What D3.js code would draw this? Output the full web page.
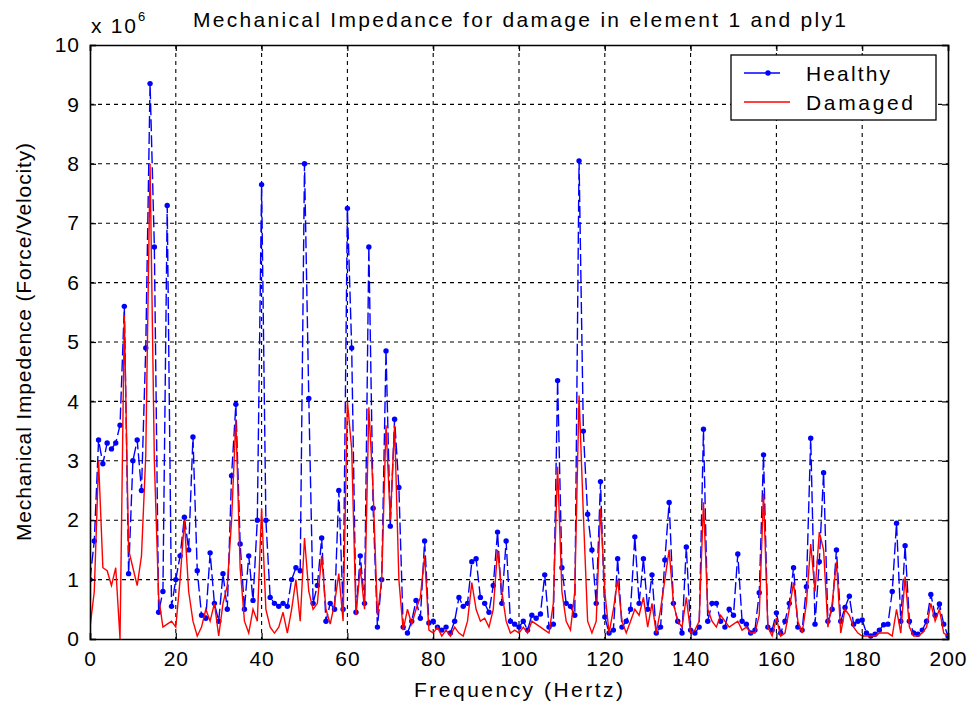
<!DOCTYPE html>
<html>
<head>
<meta charset="utf-8">
<script src="https://cdn.jsdelivr.net/npm/d3@7"></script>
<style>
  html, body { margin: 0; padding: 0; background: #fff; }
  svg { display: block; font-family: "Liberation Sans", Arial, sans-serif; }
</style>
</head>
<body>
<svg id="chart" width="974" height="709"></svg>
<script>
// Frequency axis: one sample per hertz, 0..200 Hz
const freqStart = 0;
const freqEnd = 200;
const freqStep = 1;

// Healthy plate, mechanical impedance (x 1e6)
const healthy = [
  1.0, 1.65, 3.35, 2.95, 3.3, 3.2, 3.3, 3.6, 5.6, 1.1,
  3.0, 3.35, 2.5, 4.9, 9.35, 6.6, 0.45, 0.8, 7.3, 0.55,
  1.0, 1.4, 2.05, 1.5, 3.4, 1.15, 0.4, 0.35, 1.45, 0.6,
  0.3, 1.1, 0.5, 2.75, 3.95, 1.6, 0.5, 1.4, 0.65, 2.0,
  7.65, 2.0, 0.7, 0.6, 0.55, 0.6, 0.55, 1.0, 1.2, 1.15,
  8.0, 4.05, 0.6, 0.9, 1.7, 0.3, 0.6, 0.5, 2.5, 0.5,
  7.25, 4.9, 0.45, 1.4, 0.6, 6.6, 2.2, 0.2, 1.0, 4.85,
  1.9, 3.7, 2.55, 0.2, 0.1, 0.3, 0.65, 0.35, 1.65, 0.27,
  0.3, 0.2, 0.15, 0.2, 0.1, 0.3, 0.7, 0.55, 0.6, 1.3,
  1.35, 0.7, 0.6, 0.45, 0.9, 1.8, 0.6, 1.65, 0.3, 0.25,
  0.2, 0.3, 0.15, 0.4, 0.35, 0.42, 1.08, 0.2, 0.25, 4.35,
  1.2, 0.6, 0.55, 0.4, 8.05, 3.5, 2.1, 1.5, 0.6, 2.65,
  0.37, 0.1, 0.15, 1.35, 0.2, 0.3, 0.5, 1.72, 0.6, 1.35,
  0.5, 1.08, 0.1, 0.2, 1.33, 2.3, 0.6, 0.3, 0.1, 1.55,
  0.15, 0.1, 0.2, 3.53, 0.3, 0.6, 0.6, 0.3, 0.2, 0.5,
  0.4, 1.43, 0.3, 0.25, 0.1, 0.15, 0.78, 3.1, 0.2, 0.15,
  0.44, 0.1, 0.3, 0.6, 1.2, 0.2, 0.15, 0.88, 3.38, 0.25,
  1.3, 2.8, 0.3, 0.5, 1.5, 0.3, 0.53, 0.72, 0.25, 0.3,
  0.32, 0.1, 0.05, 0.08, 0.15, 0.24, 0.25, 0.8, 1.95, 0.3,
  1.57, 0.3, 0.1, 0.08, 0.15, 0.3, 0.75, 0.4, 0.59, 0.25,
  0.05
];

// Plate with damage in element 1, ply 1 (x 1e6)
const damaged = [
  0.2, 0.8, 3.0, 1.2, 1.15, 0.9, 1.2, 0.0, 5.45, 1.5,
  1.2, 0.9, 1.4, 3.1, 8.0, 3.0, 0.7, 0.2, 0.25, 0.3,
  0.2, 1.0, 2.0, 0.8, 0.3, 0.05, 0.2, 0.5, 0.3, 0.6,
  0.05, 0.6, 0.9, 2.0, 3.7, 1.2, 0.3, 0.1, 0.5, 0.3,
  2.2, 0.5, 0.2, 0.1, 0.2, 0.45, 0.1, 0.5, 1.0, 0.3,
  1.7, 0.8, 0.5, 0.6, 1.4, 0.5, 0.25, 0.6, 1.1, 0.3,
  4.0, 3.2, 0.4, 1.2, 0.5, 3.9, 2.5, 0.4, 1.0, 3.6,
  2.0, 3.6, 1.0, 0.15, 0.5, 0.25, 0.5, 0.7, 1.4, 0.15,
  0.1, 0.2, 0.05, 0.15, 0.05, 0.2, 0.1, 0.05, 0.3, 0.95,
  0.5, 0.3, 0.35, 0.2, 0.5, 1.5, 0.8, 0.3, 0.1, 0.15,
  0.1, 0.2, 0.1, 0.3, 0.25, 0.2, 0.15, 0.1, 0.6, 2.9,
  0.8, 0.3, 0.15, 0.8, 4.1, 2.1, 0.3, 0.1, 0.3, 2.2,
  0.8, 0.1, 0.5, 1.0, 0.3, 0.1, 0.3, 0.5, 0.4, 0.7,
  0.2, 0.6, 0.1, 0.5, 1.0, 1.5, 0.6, 0.3, 0.2, 0.7,
  0.1, 0.15, 0.3, 2.3, 0.5, 0.3, 0.2, 0.4, 0.3, 0.2,
  0.25, 0.3, 0.15, 0.2, 0.1, 0.1, 0.4, 2.45, 0.2, 0.05,
  0.35, 0.05, 0.1, 0.5, 0.95, 0.3, 0.1, 0.6, 1.6, 0.8,
  1.8, 1.5, 0.2, 0.6, 1.3, 0.1, 0.5, 0.4, 0.2, 0.1,
  0.05, 0.05, 0.05, 0.05, 0.1, 0.1, 0.1, 0.05, 0.5, 0.1,
  1.05, 0.2, 0.05, 0.05, 0.1, 0.2, 0.6, 0.3, 0.5, 0.1,
  0.05
];

const xTicks = [0, 20, 40, 60, 80, 100, 120, 140, 160, 180, 200];
const yTicks = [0, 1, 2, 3, 4, 5, 6, 7, 8, 9, 10];
const seriesNames = ["Healthy", "Damaged"];

const margin = { left: 90, right: 26, top: 45, bottom: 70 };
const W = 974, H = 709;
const plotW = W - margin.left - margin.right;
const plotH = H - margin.top - margin.bottom;
const FONT = "'Liberation Sans', Arial, sans-serif";

const svg = d3.select("#chart");
const g = svg.append("g").attr("transform", `translate(${margin.left},${margin.top})`);

const x = d3.scaleLinear().domain([freqStart, freqEnd]).range([0, plotW]);
const y = d3.scaleLinear().domain([0, 10]).range([plotH, 0]);

const freqs = d3.range(freqStart, freqEnd + freqStep / 2, freqStep);
const healthyPts = freqs.map((f, i) => [f, healthy[i]]);
const damagedPts = freqs.map((f, i) => [f, damaged[i]]);

// dashed grid
const grid = g.append("g").attr("stroke", "#000").attr("stroke-width", 1.1)
  .attr("stroke-dasharray", "4,4");
grid.selectAll("line.v").data(xTicks.slice(1, -1)).join("line")
  .attr("x1", d => x(d)).attr("x2", d => x(d)).attr("y1", 0).attr("y2", plotH);
grid.selectAll("line.h").data(yTicks.slice(1, -1)).join("line")
  .attr("x1", 0).attr("x2", plotW).attr("y1", d => y(d)).attr("y2", d => y(d));

// clip data to plot area
svg.append("clipPath").attr("id", "clip").append("rect")
  .attr("x", 0).attr("y", 0).attr("width", plotW).attr("height", plotH);
const data = g.append("g").attr("clip-path", "url(#clip)");

const line = d3.line().x(d => x(d[0])).y(d => y(d[1]));

data.append("path").datum(healthyPts)
  .attr("fill", "none").attr("stroke", "#0000ff").attr("stroke-width", 1.4)
  .attr("stroke-dasharray", "12,4")
  .attr("d", line);
data.selectAll("circle.h").data(healthyPts).join("circle")
  .attr("cx", d => x(d[0])).attr("cy", d => y(d[1])).attr("r", 2.7)
  .attr("fill", "#0000ff");

data.append("path").datum(damagedPts)
  .attr("fill", "none").attr("stroke", "#ff0000").attr("stroke-width", 1.4)
  .attr("d", line);

// axes with inward ticks
const fontSize = 21;
const xAxis = d3.axisBottom(x).tickValues(xTicks).tickSize(-6).tickPadding(12);
const yAxis = d3.axisLeft(y).tickValues(yTicks).tickSize(-6).tickPadding(10);
const xTop = d3.axisTop(x).tickValues(xTicks).tickSize(-6).tickFormat("");
const yRight = d3.axisRight(y).tickValues(yTicks).tickSize(-6).tickFormat("");

function styleAxis(sel) {
  sel.selectAll("path.domain").attr("stroke", "#000").attr("stroke-width", 1.6);
  sel.selectAll(".tick line").attr("stroke", "#000").attr("stroke-width", 1.2);
  sel.selectAll(".tick text").attr("fill", "#000")
    .style("font-size", fontSize + "px")
    .style("letter-spacing", "1px")
    .style("font-family", FONT);
}
g.append("g").attr("transform", `translate(0,${plotH})`).call(xAxis).call(styleAxis);
g.append("g").call(yAxis).call(styleAxis);
g.append("g").call(xTop).call(styleAxis);
g.append("g").attr("transform", `translate(${plotW},0)`).call(yRight).call(styleAxis);

// text helper: fixed width text spread with spacing
function label(parent, txt, x0, y0, len, size, anchor) {
  return parent.append("text").attr("x", x0).attr("y", y0)
    .attr("text-anchor", anchor || "start")
    .attr("textLength", len).attr("lengthAdjust", "spacing")
    .style("font-size", size + "px").style("font-family", FONT)
    .attr("fill", "#000").text(txt);
}

// exponent label
label(svg, "x 10", 91, 33, 45, 21);
label(svg, "6", 138, 21, 9, 13);

// title and axis labels
label(svg, "Mechanical Impedance for damage in element 1 and ply1", 193, 27, 653, 21);
label(svg, "Frequency (Hertz)", 414, 697, 209, 21);
svg.append("g").attr("transform", `translate(31,${margin.top + plotH / 2}) rotate(-90)`)
  .call(s => label(s, "Mechanical Impedence (Force/Velocity)", 0, 0, 398, 21, "middle"));

// legend
const lg = svg.append("g").attr("transform", "translate(731,55)");
lg.append("rect").attr("width", 205).attr("height", 65)
  .attr("fill", "#fff").attr("stroke", "#000").attr("stroke-width", 1.3);
const entries = [
  { name: seriesNames[0], color: "#0000ff", dot: true, cy: 18, x2: 49, len: 84 },
  { name: seriesNames[1], color: "#ff0000", dot: false, cy: 47, x2: 59, len: 107 }
];
entries.forEach(e => {
  lg.append("line").attr("x1", 13).attr("x2", e.x2).attr("y1", e.cy).attr("y2", e.cy)
    .attr("stroke", e.color).attr("stroke-width", 1.4);
  if (e.dot) lg.append("circle").attr("cx", 37).attr("cy", e.cy).attr("r", 2.7).attr("fill", e.color);
  label(lg, e.name, 75, e.cy + 8, e.len, 21);
});
</script>
</body>
</html>
